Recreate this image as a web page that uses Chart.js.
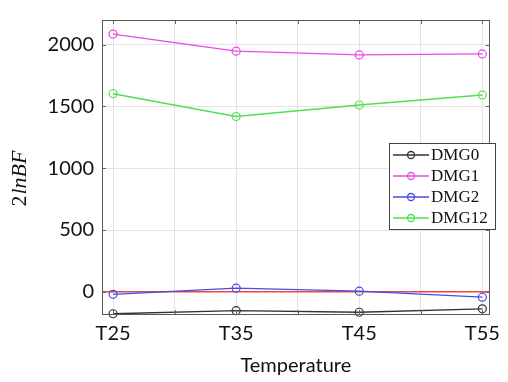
<!DOCTYPE html>
<html>
<head>
<meta charset="utf-8">
<script src="https://cdn.jsdelivr.net/npm/chart.js@4"></script>
<style>
  html, body { margin: 0; padding: 0; background: #fff; }
  #wrap { width: 508px; height: 382px; }
</style>
</head>
<body>
<div id="wrap"><canvas id="bfChart" width="508" height="382"></canvas></div>
<script>
let categories = ['T25', 'T35', 'T45', 'T55'];
let temps = [25, 35, 45, 55];
let seriesNames = ['DMG0', 'DMG1', 'DMG2', 'DMG12'];
let dmg0 = [-178, -153, -166, -138];
let dmg1 = [2086, 1948, 1917, 1925];
let dmg2 = [-21, 29, 5, -44];
let dmg12 = [1603, 1419, 1512, 1593];
let yTicks = [0, 500, 1000, 1500, 2000];
let gridX = [25, 30, 35, 40, 45, 50, 55];
let refLine = 0;
let yTitle = '2lnBF';

let colors = ['#333333', '#e44be4', '#4a4ae6', '#4fe04f'];
let allSeries = [dmg0, dmg1, dmg2, dmg12];

function toPoints(vals) {
    let pts = [];
    for (let i = 0; i < vals.length; i++) {
        pts.push({ x: temps[i], y: vals[i] });
    }
    return pts;
}

let datasets = [];
for (let i = 0; i < allSeries.length; i++) {
    datasets.push({
        label: seriesNames[i],
        data: toPoints(allSeries[i]),
        borderColor: colors[i],
        backgroundColor: 'transparent',
        pointBackgroundColor: 'rgba(0,0,0,0)',
        pointBorderColor: colors[i],
        pointRadius: 4,
        pointBorderWidth: 1.2,
        borderWidth: 1.3,
        tension: 0,
        clip: false
    });
}

// red zero line, frame, small inward ticks, y title
let framePlugin = {
    id: 'frame',
    beforeDatasetsDraw(chart) {
        let ctx = chart.ctx;
        let a = chart.chartArea;
        let y = chart.scales.y.getPixelForValue(refLine);
        ctx.save();
        ctx.strokeStyle = '#e84848';
        ctx.lineWidth = 1.3;
        ctx.beginPath();
        ctx.moveTo(a.left, y);
        ctx.lineTo(a.right, y);
        ctx.stroke();
        ctx.restore();
    },
    afterDatasetsDraw(chart) {
        let ctx = chart.ctx;
        let a = chart.chartArea;
        let xs = chart.scales.x, ys = chart.scales.y;
        ctx.save();
        ctx.strokeStyle = '#666';
        ctx.lineWidth = 1;
        ctx.beginPath();
        for (let v of yTicks) {
            let p = Math.round(ys.getPixelForValue(v)) + 0.5;
            ctx.moveTo(a.left, p); ctx.lineTo(a.left + 4, p);
            ctx.moveTo(a.right, p); ctx.lineTo(a.right - 4, p);
        }
        for (let v of gridX) {
            let p = Math.round(xs.getPixelForValue(v)) + 0.5;
            ctx.moveTo(p, a.top); ctx.lineTo(p, a.top + 4);
            ctx.moveTo(p, a.bottom); ctx.lineTo(p, a.bottom - 4);
        }
        ctx.stroke();
        ctx.strokeStyle = '#5a5a5a';
        ctx.strokeRect(Math.round(a.left) + 0.5, Math.round(a.top) + 0.5,
            Math.round(a.right - a.left) - 1, Math.round(a.bottom - a.top));

        // y title: upright digit, italic letters
        ctx.translate(20, 179);
        ctx.rotate(-Math.PI / 2);
        ctx.fillStyle = '#111';
        ctx.textBaseline = 'middle';
        ctx.font = '22px "Liberation Serif"';
        let d = yTitle.slice(0, 1);
        let rest = yTitle.slice(1);
        let w1 = ctx.measureText(d).width;
        ctx.font = 'italic 22px "Liberation Serif"';
        let w2 = ctx.measureText(rest).width;
        let x0 = -(w1 + w2) / 2;
        ctx.font = '22px "Liberation Serif"';
        ctx.fillText(d, x0, 0);
        ctx.font = 'italic 22px "Liberation Serif"';
        ctx.fillText(rest, x0 + w1 + 1, 0);
        ctx.restore();
    }
};

// matlab style legend box with line + circle
let legendPlugin = {
    id: 'boxLegend',
    afterDraw(chart) {
        let ctx = chart.ctx;
        let bx = 389, by = 143, bw = 106, bh = 86;
        ctx.save();
        ctx.fillStyle = '#fff';
        ctx.fillRect(bx, by, bw, bh);
        ctx.strokeStyle = '#444';
        ctx.lineWidth = 1;
        ctx.strokeRect(bx + 0.5, by + 0.5, bw, bh);
        ctx.font = '17px "Liberation Serif"';
        ctx.textBaseline = 'middle';
        chart.data.datasets.forEach(function (ds, i) {
            let y = by + 12 + i * 21;
            ctx.strokeStyle = ds.borderColor;
            ctx.lineWidth = 1.3;
            ctx.beginPath();
            ctx.moveTo(bx + 4, y);
            ctx.lineTo(bx + 40, y);
            ctx.stroke();
            ctx.beginPath();
            ctx.arc(bx + 22, y, 3.5, 0, Math.PI * 2);
            ctx.stroke();
            ctx.fillStyle = '#111';
            ctx.fillText(ds.label, bx + 42, y + 1);
        });
        ctx.restore();
    }
};

let config = {
    type: 'line',
    data: { datasets: datasets },
    options: {
        responsive: false,
        animation: false,
        layout: { padding: { top: 8, right: 9, left: 0, bottom: 0 } },
        plugins: {
            legend: { display: false },
            tooltip: { enabled: false }
        },
        scales: {
            x: {
                type: 'linear',
                min: 24.1,
                max: 55.6,
                afterBuildTicks: function (axis) {
                    axis.ticks = gridX.map(function (v) { return { value: v }; });
                },
                afterFit: function (axis) { axis.height = 68; },
                grid: { color: '#e3e3e3', drawTicks: false },
                border: { display: false },
                ticks: {
                    padding: 8,
                    maxRotation: 0,
                    autoSkip: false,
                    color: '#111',
                    font: { family: 'Lato', size: 20 },
                    callback: function (v) {
                        let i = temps.indexOf(v);
                        return i >= 0 ? categories[i] : '';
                    }
                },
                title: {
                    display: true,
                    text: 'Temperature',
                    color: '#111',
                    font: { family: 'Lato', size: 20 },
                    padding: { top: 3 }
                }
            },
            y: {
                min: -180,
                max: 2200,
                afterBuildTicks: function (axis) {
                    axis.ticks = yTicks.map(function (v) { return { value: v }; });
                },
                afterFit: function (axis) { axis.width = 102; },
                grid: { color: '#e3e3e3', drawTicks: false },
                border: { display: false },
                ticks: {
                    padding: 8,
                    color: '#111',
                    font: { family: 'Lato', size: 20 },
                    callback: function (v) { return String(v); }
                },
                title: { display: false }
            }
        }
    },
    plugins: [framePlugin, legendPlugin]
};

let bfChart = new Chart(document.getElementById('bfChart'), config);
</script>
</body>
</html>
